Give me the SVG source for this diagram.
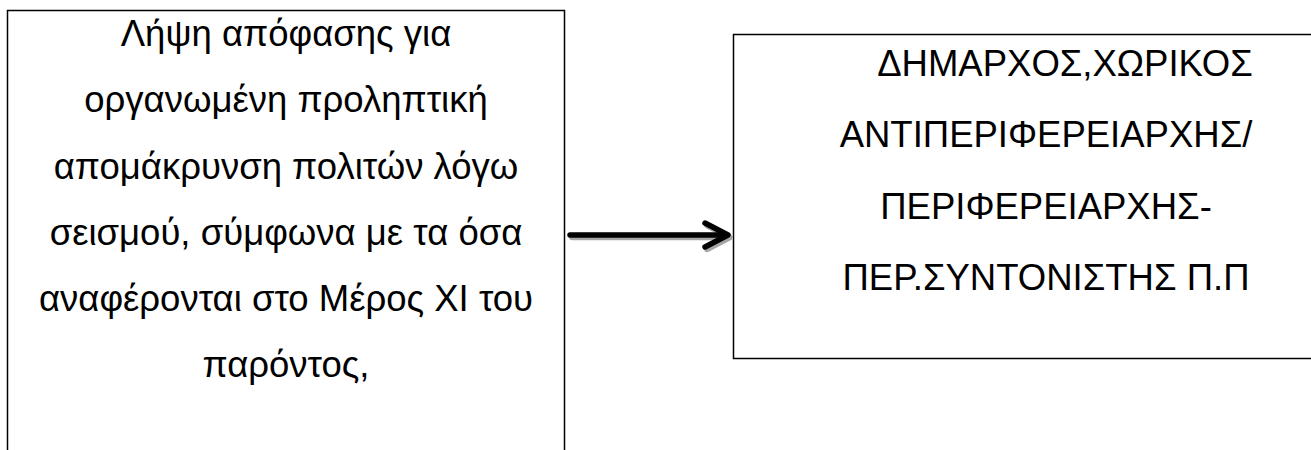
<svg xmlns="http://www.w3.org/2000/svg" width="1311" height="450" viewBox="0 0 1311 450">
<style>
.box{fill:#fff;stroke:#000;stroke-width:1.5}
.t{font-family:"Liberation Sans",Arial,sans-serif;font-size:36.5px;fill:#000;text-anchor:middle}
</style>
<rect width="1311" height="450" fill="#fff"/>
<g id="node-left">
<path class="box" d="M7.5,470 V10.5 H564.5 V470"/>
<text class="t" x="286" y="46">Λήψη απόφασης για</text>
<text class="t" x="286" y="112">οργανωμένη προληπτική</text>
<text class="t" x="286" y="178.5">απομάκρυνση πολιτών λόγω</text>
<text class="t" x="286" y="244.5">σεισμού, σύμφωνα με τα όσα</text>
<text class="t" x="286" y="310.5">αναφέρονται στο Μέρος XI του</text>
<text class="t" x="286" y="377">παρόντος,</text>
</g>
<g id="node-right">
<path class="box" d="M1320,34.5 H733.5 V358.5 H1320"/>
<text class="t" x="1065" y="76">ΔΗΜΑΡΧΟΣ,ΧΩΡΙΚΟΣ</text>
<text class="t" x="1046" y="147">ΑΝΤΙΠΕΡΙΦΕΡΕΙΑΡΧΗΣ/</text>
<text class="t" x="1046" y="219">ΠΕΡΙΦΕΡΕΙΑΡΧΗΣ-</text>
<text class="t" x="1046" y="290">ΠΕΡ.ΣΥΝΤΟΝΙΣΤΗΣ Π.Π</text>
</g>
<g id="connectors" fill="none" stroke-width="5.5" stroke-linecap="round" stroke-linejoin="round">
<g transform="translate(2,2.5)" stroke="#a6a6a6">
<path d="M570,235 H726"/>
<path d="M705,223 L728,235 L705,247"/>
</g>
<g stroke="#000">
<path d="M570,235 H726"/>
<path d="M705,223 L728,235 L705,247"/>
</g>
</g>
</svg>
